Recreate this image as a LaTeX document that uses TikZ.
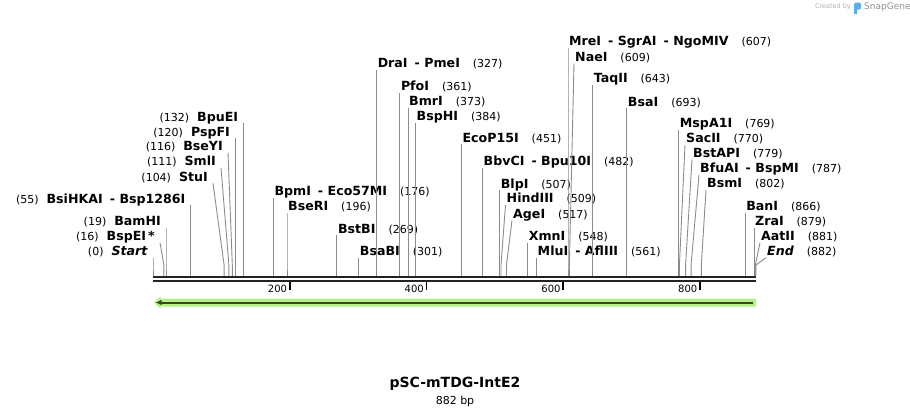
\documentclass[tikz,border=0pt]{standalone}
\usepackage{fontspec}
\setmainfont{DejaVu Sans}
\usetikzlibrary{positioning,arrows.meta}
\definecolor{CorteGris}{RGB}{140,140,140}
\definecolor{Espina}{RGB}{34,34,34}
\definecolor{VerdeClaro}{RGB}{180,240,130}
\definecolor{VerdeOscuro}{RGB}{58,68,50}
\definecolor{SnapAzul}{RGB}{90,175,230}
\definecolor{SnapGris}{RGB}{140,146,152}
\newcommand{\SeqX}[1]{153+#1*0.683673}
\newcommand{\NumDer}[1]{\hspace{13pt}{\mdseries\fontsize{11}{13}\selectfont(#1)}}
\newcommand{\NumIzq}[1]{{\mdseries\fontsize{11}{13}\selectfont(#1)}\hspace{8pt}}
\newcommand{\Sep}{\hspace{7pt}-\hspace{4.5pt}}
\tikzstyle{EnzDer}=[anchor=south west, inner xsep=1pt, inner ysep=0pt, text height=8.5pt, text depth=2pt, font=\bfseries\fontsize{12.6}{14}\selectfont]
\tikzstyle{EnzIzq}=[anchor=south east, inner xsep=5pt, inner ysep=0pt, text height=8.5pt, text depth=2pt, font=\bfseries\fontsize{12.6}{14}\selectfont]
\tikzstyle{Corte}=[draw=CorteGris, line width=0.9pt]
\tikzstyle{Espina}=[draw=Espina, line width=2.5pt]
\tikzstyle{Marca}=[draw=black, line width=1.6pt]
\tikzstyle{Escala}=[anchor=east, inner sep=0pt, font=\fontsize{10}{12}\selectfont]

\begin{document}
\begin{tikzpicture}[x=1pt, y=-1pt]
			\useasboundingbox (0,0) rectangle (910,415);

			%Sitios
			\coordinate (s-start)		at ({\SeqX{0}},276);
			\coordinate (s-bspei)		at ({\SeqX{16}},276);
			\coordinate (s-bamhi)		at ({\SeqX{19}},276);
			\coordinate (s-bsihkai)		at ({\SeqX{55}},276);
			\coordinate (s-stui)		at ({\SeqX{104}},276);
			\coordinate (s-smli)		at ({\SeqX{111}},276);
			\coordinate (s-bseyi)		at ({\SeqX{116}},276);
			\coordinate (s-pspfi)		at ({\SeqX{120}},276);
			\coordinate (s-bpuei)		at ({\SeqX{132}},276);
			\coordinate (s-bpmi)		at ({\SeqX{176}},276);
			\coordinate (s-bseri)		at ({\SeqX{196}},276);
			\coordinate (s-bstbi)		at ({\SeqX{269}},276);
			\coordinate (s-bsabi)		at ({\SeqX{301}},276);
			\coordinate (s-drai)		at ({\SeqX{327}},276);
			\coordinate (s-pfoi)		at ({\SeqX{361}},276);
			\coordinate (s-bmri)		at ({\SeqX{373}},276);
			\coordinate (s-bsphi)		at ({\SeqX{384}},276);
			\coordinate (s-ecop15i)		at ({\SeqX{451}},276);
			\coordinate (s-bbvci)		at ({\SeqX{482}},276);
			\coordinate (s-blpi)		at ({\SeqX{507}},276);
			\coordinate (s-hindiii)		at ({\SeqX{509}},276);
			\coordinate (s-agei)		at ({\SeqX{517}},276);
			\coordinate (s-xmni)		at ({\SeqX{548}},276);
			\coordinate (s-mlui)		at ({\SeqX{561}},276);
			\coordinate (s-mrei)		at ({\SeqX{607}},276);
			\coordinate (s-naei)		at ({\SeqX{609}},276);
			\coordinate (s-taqii)		at ({\SeqX{643}},276);
			\coordinate (s-bsai)		at ({\SeqX{693}},276);
			\coordinate (s-mspa1i)		at ({\SeqX{769}},276);
			\coordinate (s-sacii)		at ({\SeqX{770}},276);
			\coordinate (s-bstapi)		at ({\SeqX{779}},276);
			\coordinate (s-bfuai)		at ({\SeqX{787}},276);
			\coordinate (s-bsmi)		at ({\SeqX{802}},276);
			\coordinate (s-bani)		at ({\SeqX{866}},276);
			\coordinate (s-zrai)		at ({\SeqX{879}},276);
			\coordinate (s-aatii)		at ({\SeqX{881}},276);
			\coordinate (s-end)			at ({\SeqX{882}},276);

			%Nodos izquierda
			\node[EnzIzq]	(e-start)		at ({\SeqX{0}},257.7)		{\NumIzq{0}\textit{Start}};
			\node[EnzIzq]	(e-bspei)		at (160,242.7)				{\NumIzq{16}BspEI\,*};
			\node[EnzIzq]	(e-bamhi)		at ({\SeqX{19}},227.7)		{\NumIzq{19}BamHI};
			\node[EnzIzq]	(e-bsihkai)		at ({\SeqX{55}},205.3)		{\NumIzq{55}BsiHKAI\Sep Bsp1286I};
			\node[EnzIzq]	(e-stui)		at (213,183.3)				{\NumIzq{104}StuI};
			\node[EnzIzq]	(e-smli)		at (221,167.7)				{\NumIzq{111}SmlI};
			\node[EnzIzq]	(e-bseyi)		at (228,152.7)				{\NumIzq{116}BseYI};
			\node[EnzIzq]	(e-pspfi)		at ({\SeqX{120}},138.3)		{\NumIzq{120}PspFI};
			\node[EnzIzq]	(e-bpuei)		at ({\SeqX{132}},123.3)		{\NumIzq{132}BpuEI};

			%Nodos derecha
			\node[EnzDer]	(e-bpmi)		at ({\SeqX{176}},197.7)		{BpmI\Sep Eco57MI\NumDer{176}};
			\node[EnzDer]	(e-bseri)		at ({\SeqX{196}},212.7)		{BseRI\NumDer{196}};
			\node[EnzDer]	(e-bstbi)		at ({\SeqX{269}},235.3)		{BstBI\NumDer{269}};
			\node[EnzDer]	(e-bsabi)		at ({\SeqX{301}},257.7)		{BsaBI\NumDer{301}};
			\node[EnzDer]	(e-drai)		at ({\SeqX{327}},70)		{DraI\Sep PmeI\NumDer{327}};
			\node[EnzDer]	(e-pfoi)		at ({\SeqX{361}},92.7)		{PfoI\NumDer{361}};
			\node[EnzDer]	(e-bmri)		at ({\SeqX{373}},107.7)		{BmrI\NumDer{373}};
			\node[EnzDer]	(e-bsphi)		at ({\SeqX{384}},122.7)		{BspHI\NumDer{384}};
			\node[EnzDer]	(e-ecop15i)		at ({\SeqX{451}},144.3)		{EcoP15I\NumDer{451}};
			\node[EnzDer]	(e-bbvci)		at ({\SeqX{482}},167.7)		{BbvCI\Sep Bpu10I\NumDer{482}};
			\node[EnzDer]	(e-blpi)		at ({\SeqX{507}},190.3)		{BlpI\NumDer{507}};
			\node[EnzDer]	(e-hindiii)		at (505.5,205)				{HindIII\NumDer{509}};
			\node[EnzDer]	(e-agei)		at (512,220.3)				{AgeI\NumDer{517}};
			\node[EnzDer]	(e-xmni)		at ({\SeqX{548}},242.7)		{XmnI\NumDer{548}};
			\node[EnzDer]	(e-mlui)		at ({\SeqX{561}},257.7)		{MluI\Sep AflIII\NumDer{561}};
			\node[EnzDer]	(e-mrei)		at ({\SeqX{607}},47.7)		{MreI\Sep SgrAI\Sep NgoMIV\NumDer{607}};
			\node[EnzDer]	(e-naei)		at (574,63.3)				{NaeI\NumDer{609}};
			\node[EnzDer]	(e-taqii)		at ({\SeqX{643}},85)		{TaqII\NumDer{643}};
			\node[EnzDer]	(e-bsai)		at ({\SeqX{693}},108.3)		{BsaI\NumDer{693}};
			\node[EnzDer]	(e-mspa1i)		at ({\SeqX{769}},130)		{MspA1I\NumDer{769}};
			\node[EnzDer]	(e-sacii)		at (685,145)				{SacII\NumDer{770}};
			\node[EnzDer]	(e-bstapi)		at (692,159.3)				{BstAPI\NumDer{779}};
			\node[EnzDer]	(e-bfuai)		at (699,175)				{BfuAI\Sep BspMI\NumDer{787}};
			\node[EnzDer]	(e-bsmi)		at (706,190)				{BsmI\NumDer{802}};
			\node[EnzDer]	(e-bani)		at ({\SeqX{866}},212.7)		{BanI\NumDer{866}};
			\node[EnzDer]	(e-zrai)		at ({\SeqX{879}},227.7)		{ZraI\NumDer{879}};
			\node[EnzDer]	(e-aatii)		at (760,242.7)				{AatII\NumDer{881}};
			\node[EnzDer]	(e-end)			at (766,257.7)				{\textit{End}\NumDer{882}};

			%Lineas izquierda
			\draw[Corte] (e-start.south east) -- ([yshift=11pt]s-start) -- (s-start);
			\draw[Corte] (e-bspei.south east) -- ([yshift=11pt]s-bspei) -- (s-bspei);
			\draw[Corte] (e-bamhi.south east) -- ([yshift=11pt]s-bamhi) -- (s-bamhi);
			\draw[Corte] (e-bsihkai.south east) -- ([yshift=11pt]s-bsihkai) -- (s-bsihkai);
			\draw[Corte] (e-stui.south east) -- ([yshift=11pt]s-stui) -- (s-stui);
			\draw[Corte] (e-smli.south east) -- ([yshift=11pt]s-smli) -- (s-smli);
			\draw[Corte] (e-bseyi.south east) -- ([yshift=11pt]s-bseyi) -- (s-bseyi);
			\draw[Corte] (e-pspfi.south east) -- ([yshift=11pt]s-pspfi) -- (s-pspfi);
			\draw[Corte] (e-bpuei.south east) -- ([yshift=11pt]s-bpuei) -- (s-bpuei);

			%Lineas derecha
			\draw[Corte] (e-bpmi.south west) -- ([yshift=11pt]s-bpmi) -- (s-bpmi);
			\draw[Corte] (e-bseri.south west) -- ([yshift=11pt]s-bseri) -- (s-bseri);
			\draw[Corte] (e-bstbi.south west) -- ([yshift=11pt]s-bstbi) -- (s-bstbi);
			\draw[Corte] (e-bsabi.south west) -- ([yshift=11pt]s-bsabi) -- (s-bsabi);
			\draw[Corte] (e-drai.south west) -- ([yshift=11pt]s-drai) -- (s-drai);
			\draw[Corte] (e-pfoi.south west) -- ([yshift=11pt]s-pfoi) -- (s-pfoi);
			\draw[Corte] (e-bmri.south west) -- ([yshift=11pt]s-bmri) -- (s-bmri);
			\draw[Corte] (e-bsphi.south west) -- ([yshift=11pt]s-bsphi) -- (s-bsphi);
			\draw[Corte] (e-ecop15i.south west) -- ([yshift=11pt]s-ecop15i) -- (s-ecop15i);
			\draw[Corte] (e-bbvci.south west) -- ([yshift=11pt]s-bbvci) -- (s-bbvci);
			\draw[Corte] (e-blpi.south west) -- ([yshift=11pt]s-blpi) -- (s-blpi);
			\draw[Corte] (e-hindiii.south west) -- ([yshift=11pt]s-hindiii) -- (s-hindiii);
			\draw[Corte] (e-agei.south west) -- ([yshift=11pt]s-agei) -- (s-agei);
			\draw[Corte] (e-xmni.south west) -- ([yshift=11pt]s-xmni) -- (s-xmni);
			\draw[Corte] (e-mlui.south west) -- ([yshift=11pt]s-mlui) -- (s-mlui);
			\draw[Corte] (e-mrei.south west) -- ([yshift=11pt]s-mrei) -- (s-mrei);
			\draw[Corte] (e-naei.south west) -- ([yshift=11pt]s-naei) -- (s-naei);
			\draw[Corte] (e-taqii.south west) -- ([yshift=11pt]s-taqii) -- (s-taqii);
			\draw[Corte] (e-bsai.south west) -- ([yshift=11pt]s-bsai) -- (s-bsai);
			\draw[Corte] (e-mspa1i.south west) -- ([yshift=11pt]s-mspa1i) -- (s-mspa1i);
			\draw[Corte] (e-sacii.south west) -- ([yshift=11pt]s-sacii) -- (s-sacii);
			\draw[Corte] (e-bstapi.south west) -- ([yshift=11pt]s-bstapi) -- (s-bstapi);
			\draw[Corte] (e-bfuai.south west) -- ([yshift=11pt]s-bfuai) -- (s-bfuai);
			\draw[Corte] (e-bsmi.south west) -- ([yshift=11pt]s-bsmi) -- (s-bsmi);
			\draw[Corte] (e-bani.south west) -- ([yshift=11pt]s-bani) -- (s-bani);
			\draw[Corte] (e-zrai.south west) -- ([yshift=11pt]s-zrai) -- (s-zrai);
			\draw[Corte] (e-aatii.south west) -- ([yshift=11pt]s-aatii) -- (s-aatii);
			\draw[Corte] (e-end.south west) -- ([yshift=11pt]s-end) -- (s-end);

			%Secuencia
			\coordinate (inicio) at (153,277.2);
			\coordinate (fin) at (756,277.2);
			\draw[Espina] (inicio) -- (fin);
			\draw[Espina] ([yshift=-4pt]inicio) -- ([yshift=-4pt]fin);

			%Escala
			\draw[Marca] ({\SeqX{200}},282) -- ++(0,8);
			\draw[Marca] ({\SeqX{400}},282) -- ++(0,8);
			\draw[Marca] ({\SeqX{600}},282) -- ++(0,8);
			\draw[Marca] ({\SeqX{800}},282) -- ++(0,8);
			\node[Escala] (m200) at ({\SeqX{200}-2.5},288.5) {200};
			\node[Escala] (m400) at ({\SeqX{400}-2.5},288.5) {400};
			\node[Escala] (m600) at ({\SeqX{600}-2.5},288.5) {600};
			\node[Escala] (m800) at ({\SeqX{800}-2.5},288.5) {800};

			%Flecha
			\fill[VerdeClaro] (756,298.5) -- (160.5,298.5) -- (160.5,296.5) -- (154,302.5) -- (160.5,308.5) -- (160.5,306.5) -- (756,306.5) -- cycle;
			\draw[VerdeOscuro, line width=2pt, -{Latex[length=6pt,width=5.5pt]}] (753,302.5) -- (155.5,302.5);

			%Titulo
			\node[font=\bfseries\fontsize{14}{16}\selectfont] (titulo) at (455,384) {pSC-mTDG-IntE2};
			\node[font=\fontsize{11}{13}\selectfont, below=-1.5pt of titulo] (longitud) {882 bp};

			%SnapGene
			\node[anchor=east, inner sep=0pt, text=black!30, font=\fontsize{6.5}{8}\selectfont] (creado) at (851,7) {Created by};
			\fill[SnapAzul, rounded corners=1.5pt] (854,2.5) rectangle (861,9.5);
			\fill[SnapAzul] (854,5) rectangle (856.5,13.5);
			\node[anchor=west, inner sep=0pt, text=SnapGris, font=\fontsize{9}{11}\selectfont] (snap) at (864,7) {SnapGene};

		\end{tikzpicture}
\end{document}
